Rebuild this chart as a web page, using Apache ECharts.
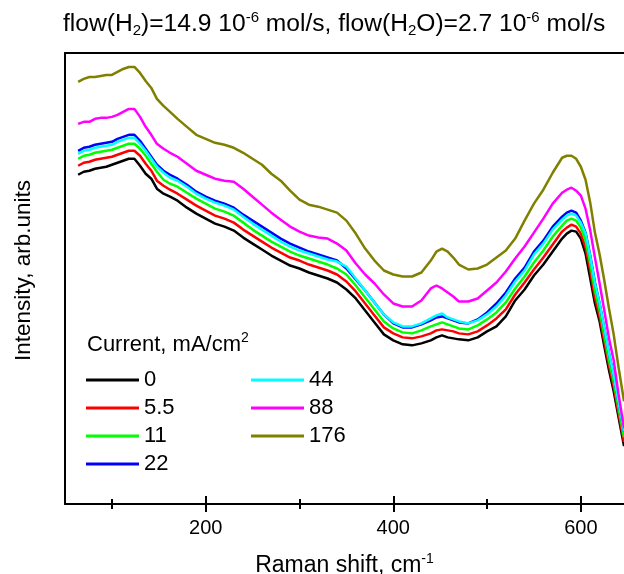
<!DOCTYPE html>
<html>
<head>
<meta charset="utf-8">
<script src="https://cdn.jsdelivr.net/npm/echarts@6/dist/echarts.min.js"></script>
<style>html,body{margin:0;padding:0;background:#fff;}#c{width:624px;height:574px;}</style>
</head>
<body>
<div id="c"></div>
<script>
const wavenumber = [64,70,76,82,88,94,100,106,112,118,124,130,136,142,148,155,162,170,180,190,200,210,220,230,240,250,260,270,280,290,300,310,320,330,340,350,360,370,380,390,400,410,420,430,440,446,452,458,464,470,480,490,500,510,520,530,540,550,560,570,580,585,590,595,600,605,610,615,620,625,630,635,640,646];
const i0 = [330,333,334,336,337,338,340,342,344,346,346,339,331,326,316,311,308,304,297,291,286,281,278,274,267,261,255,249,244,239,236,232,229,226,222,215,206,194,182,170,164,160,159,161,164,167,169,167,166,165,164,167,173,178,188,204,215,229,240,253,266,271,274,273,266,251,226,201,183,158,134,113,88,58];
const i5_5 = [339,342,343,345,346,347,348,350,352,354,354,349,341,334,324,319,315,311,305,299,294,289,286,282,275,269,263,257,252,247,244,240,237,234,230,223,213,201,189,177,171,167,166,168,171,174,175,174,173,171,170,173,179,186,195,210,222,235,247,260,273,277,280,278,271,257,234,207,188,163,139,118,92,62];
const i11 = [346,349,350,352,353,354,355,357,359,361,361,356,349,341,333,325,321,318,312,306,301,296,293,289,282,275,269,263,258,253,249,246,243,240,236,230,219,207,195,183,176,172,171,174,178,180,182,180,178,176,175,179,185,192,202,216,228,242,254,268,279,284,286,284,277,264,241,214,194,169,144,123,97,67];
const i22 = [354,357,358,360,361,362,363,366,368,370,370,364,356,348,340,334,330,326,320,313,308,304,301,297,290,284,278,272,266,261,257,253,250,247,244,236,225,214,202,190,181,177,177,180,184,187,188,186,184,182,181,185,192,201,212,226,237,253,264,278,288,292,294,292,284,272,249,222,201,176,151,129,103,73];
const i44 = [351,354,355,357,358,359,360,363,365,367,367,361,354,346,338,332,327,324,318,311,306,302,299,295,288,281,275,269,263,258,254,251,248,245,243,238,226,214,202,190,182,178,178,181,186,189,191,187,185,183,181,184,190,198,209,223,234,250,261,275,285,289,291,289,282,271,248,221,201,176,151,129,103,73];
const i88 = [381,383,383,386,387,387,388,390,393,396,396,388,378,370,361,356,352,348,341,334,330,326,324,323,316,308,300,292,285,278,273,269,267,266,261,254,241,230,221,210,201,198,198,204,216,219,216,212,208,203,203,206,214,222,233,246,258,272,286,301,312,315,317,314,309,296,274,247,221,194,166,144,111,76];
const i176 = [423,426,428,428,429,430,430,433,436,438,438,432,424,417,406,399,393,386,378,370,366,362,360,357,352,346,340,331,324,314,305,300,298,295,292,284,271,256,244,234,230,228,228,232,244,253,256,253,247,240,235,236,240,247,254,266,284,301,315,332,347,349,349,346,338,325,302,272,250,224,196,170,138,103];

const currents = ['0','5.5','11','22','44','88','176'];
const values = [i0, i5_5, i11, i22, i44, i88, i176];
const colors = ['#000000','#ff0000','#00ff00','#0000ff','#00ffff','#ff00ff','#808000'];
const majorTicks = [200,400,600];
const minorTicks = [100,300,500];

const FF = '"Liberation Sans", Arial, sans-serif';
const chart = echarts.init(document.getElementById('c'));

const baseAxis = {type:'value', min:50, max:646, splitLine:{show:false}};
const option = {
  animation: false,
  backgroundColor: '#ffffff',
  textStyle: {fontFamily: FF},
  title: [
    {
      text: 'flow(H{sub|2})=14.9 10{sup|-6} mol/s, flow(H{sub|2}O)=2.7 10{sup|-6} mol/s',
      left: 58, top: 5,
      textStyle: {fontFamily: FF, fontSize: 24.6, fontWeight: 'normal', color: '#000',
        rich: {
          sub: {fontFamily: FF, fontSize: 15, color:'#000', padding: [12,0,0,0]},
          sup: {fontFamily: FF, fontSize: 15, color:'#000', padding: [0,0,14,0]}
        }}
    },
    {
      text: 'Current, mA/cm{sup|2}',
      left: 82, top: 326,
      textStyle: {fontFamily: FF, fontSize: 22, fontWeight: 'normal', color: '#000',
        rich: {sup: {fontFamily: FF, fontSize: 14, color:'#000', padding: [0,0,13,0]}}}
    }
  ],
  legend: [
    {data: currents.slice(0,4), orient:'vertical', left: 81, top: 361, itemWidth: 53, itemHeight: 3, itemGap: 0, icon: 'rect',
     textStyle: {fontFamily: FF, fontSize: 22, lineHeight: 28, color:'#000'}},
    {data: currents.slice(4), orient:'vertical', left: 246, top: 361, itemWidth: 53, itemHeight: 3, itemGap: 0, icon: 'rect',
     textStyle: {fontFamily: FF, fontSize: 22, lineHeight: 28, color:'#000'}}
  ],
  grid: {left: 65, right: 0, top: 53, bottom: 70, containLabel: false, outerBoundsMode: 'none'},
  xAxis: [
    Object.assign({}, baseAxis, {position:'bottom',
      name: 'Raman shift, cm{sup|-1}', nameLocation: 'middle', nameGap: 48,
      nameTextStyle: {fontFamily: FF, fontSize: 23, color: '#000',
        rich: {sup: {fontFamily: FF, fontSize: 14, color:'#000', padding: [0,0,14,0]}}},
      axisLine: {show: true, onZero: false, lineStyle: {color:'#000', width: 2}},
      axisTick: {show: true, inside: false, length: 8, customValues: majorTicks, lineStyle: {color:'#000', width: 2}},
      axisLabel: {show: true, customValues: majorTicks, margin: 14, fontFamily: FF, fontSize: 20, color:'#000'}}),
    Object.assign({}, baseAxis, {position:'bottom',
      axisLine: {show: false, onZero: false},
      axisTick: {show: true, inside: true, length: 8, customValues: majorTicks, lineStyle: {color:'#000', width: 2}},
      axisLabel: {show: false}}),
    Object.assign({}, baseAxis, {position:'bottom',
      axisLine: {show: false, onZero: false},
      axisTick: {show: true, inside: false, length: 5, customValues: minorTicks, lineStyle: {color:'#000', width: 2}},
      axisLabel: {show: false}}),
    Object.assign({}, baseAxis, {position:'bottom',
      axisLine: {show: false, onZero: false},
      axisTick: {show: true, inside: true, length: 5, customValues: minorTicks, lineStyle: {color:'#000', width: 2}},
      axisLabel: {show: false}}),
    Object.assign({}, baseAxis, {position:'top',
      axisLine: {show: true, onZero: false, lineStyle: {color:'#000', width: 2}},
      axisTick: {show: false}, axisLabel: {show: false}})
  ],
  yAxis: {
    type: 'value', min: 0, max: 452, position: 'left',
    name: 'Intensity, arb.units', nameLocation: 'middle', nameGap: 30, nameRotate: 90,
    nameTextStyle: {fontFamily: FF, fontSize: 22.5, color: '#000', padding: [0,0,0,16]},
    axisLine: {show: true, onZero: false, lineStyle: {color:'#000', width: 2}},
    axisTick: {show: false}, axisLabel: {show: false}, splitLine: {show: false}
  },
  series: currents.map((name, k) => ({
    name: name, type: 'line', xAxisIndex: 0, yAxisIndex: 0,
    showSymbol: false, symbol: 'none', clip: true,
    color: colors[k],
    lineStyle: {color: colors[k], width: 2.5},
    data: wavenumber.map((x, i) => [x, values[k][i]])
  }))
};
chart.setOption(option);
</script>
</body>
</html>
